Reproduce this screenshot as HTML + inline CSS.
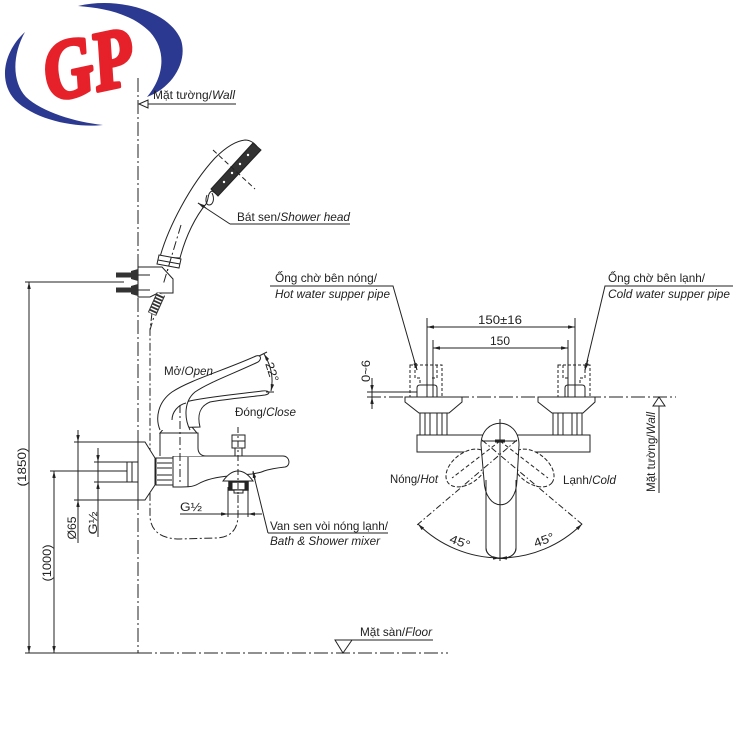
<!DOCTYPE html>
<html><head><meta charset="utf-8"><style>html,body{margin:0;padding:0;background:#fff}svg{display:block}</style></head><body>
<svg width="740" height="740" viewBox="0 0 740 740" xmlns="http://www.w3.org/2000/svg" font-family="'Liberation Sans', Arial, sans-serif" font-size="12" fill="#222">
<defs>
<marker id="ar" viewBox="0 0 10 5" refX="10" refY="2.5" markerWidth="7" markerHeight="3.5" markerUnits="userSpaceOnUse" orient="auto-start-reverse"><path d="M0,0 L10,2.5 L0,5 z" fill="#222"/></marker>
</defs>
<rect width="740" height="740" fill="#fff"/>

<!-- logo -->
<path d="M78,6 C120,-4 170,12 181,40 C188,62 172,88 147,97 C163,78 168,52 150,32 C132,14 105,8 78,6 Z" fill="#2b3990"/>
<path d="M25,32 C5,50 -3,80 15,100 C35,120 75,128 103,125 C75,122 42,112 26,97 C12,82 12,55 25,32 Z" fill="#2b3990"/>
<text x="0" y="0" transform="translate(50,101) rotate(-12)" font-family="'Liberation Serif', serif" font-weight="bold" font-style="italic" font-size="84" fill="#e62129" stroke="#e62129" stroke-width="4" stroke-linejoin="round" textLength="90" lengthAdjust="spacingAndGlyphs">GP</text>

<g stroke="#222" stroke-width="1" fill="none">
<!-- wall & floor -->
<line x1="138" y1="78" x2="138" y2="653" stroke-dasharray="14,3,2,3"/>
<line x1="25" y1="653" x2="138" y2="653"/>
<line x1="138" y1="653" x2="448" y2="653" stroke-dasharray="14,3,2,3"/>
<line x1="147" y1="104" x2="236" y2="104"/>
<path d="M139,104 L148,100 L148,108 Z" fill="#fff"/>
<line x1="335" y1="640" x2="433" y2="640"/>
<path d="M343,653 L335,640 L352,640 Z" fill="#fff"/>

<!-- left dimensions -->
<line x1="25" y1="282" x2="124" y2="282"/>
<line x1="29" y1="282" x2="29" y2="653" marker-start="url(#ar)" marker-end="url(#ar)"/>
<line x1="54" y1="471" x2="54" y2="653" marker-start="url(#ar)" marker-end="url(#ar)"/>
<line x1="50" y1="471" x2="126" y2="471"/>
<line x1="126" y1="471" x2="200" y2="471" stroke-dasharray="10,3,2,3"/>
<line x1="74" y1="442" x2="142" y2="442"/>
<line x1="74" y1="500" x2="142" y2="500"/>
<line x1="78" y1="430" x2="78" y2="543"/>
<line x1="78" y1="432" x2="78" y2="442" marker-end="url(#ar)"/>
<line x1="78" y1="512" x2="78" y2="500" marker-end="url(#ar)"/>
<line x1="94" y1="462" x2="128" y2="462"/>
<line x1="94" y1="482" x2="128" y2="482"/>
<line x1="98" y1="448" x2="98" y2="537"/>
<line x1="98" y1="450" x2="98" y2="462" marker-end="url(#ar)"/>
<line x1="98" y1="494" x2="98" y2="482" marker-end="url(#ar)"/>

<!-- hose -->
<path d="M152,313 L150,330 L150,515 C150,530 160,539 180,539 L215,538 C230,538 238,530 238,515 L238,493" stroke-dasharray="8,2.5,2,2.5"/>
<line x1="181" y1="225" x2="150" y2="330" stroke-dasharray="9,3,2,3"/>

<!-- shower head -->
<path d="M160,257 C168,228 190,185 215,158 C225,148 235,141 245,140 C250,140 255,143 258,148 L218,195 L212,191 C207,193 209,200 206,204 C196,216 186,235 180,258 Z" fill="#fff"/>
<path d="M253,143 L261,150 L218,196 L211,189 Z" fill="#333"/>
<path d="M212,193 C215,199 213,205 209,205 C206,205 205,200 207,195" />
<line x1="213" y1="150" x2="255" y2="189" stroke-dasharray="5,3"/>
<path d="M159,255 L181,259 L179,268 L157,264 Z" fill="#fff"/>
<line x1="158" y1="260" x2="180" y2="264"/>
<!-- bracket -->
<path d="M138,267 L162,267 L173,279 L173,293 L158,293 L150,297 L138,297 Z" fill="#fff"/>
<line x1="138" y1="275" x2="150" y2="275"/>
<line x1="138" y1="290" x2="150" y2="290"/>
<line x1="161" y1="294" x2="152" y2="314" stroke-width="9" stroke="#333"/>
<line x1="161" y1="294" x2="152" y2="314" stroke-width="7" stroke="#fff" stroke-dasharray="1.5,1.8"/>
<line x1="181" y1="225" x2="163" y2="285" stroke-dasharray="9,3,2,3"/>

<!-- leader shower head -->
<path d="M230,224 L350,224 M230,224 L198,203"/>
<line x1="206" y1="208" x2="198" y2="203" marker-end="url(#ar)"/>

<!-- faucet side view -->
<rect x="127" y="462" width="11" height="20" fill="#fff"/>
<line x1="132" y1="462" x2="132" y2="482"/>
<path d="M138,442 L145,442 L155,458 L155,485 L145,500 L138,500 Z" fill="#fff"/>
<rect x="156" y="458" width="17" height="27" fill="#fff"/>
<path d="M157,463 H172 M157,468 H172 M157,475 H172 M157,480 H172"/>
<path d="M173,456 L283,456 C290,456 291,466 285,467 C276,468 270,469 264,471 C260,473 256,473 252,474 L230,476 C215,477 205,480 198,484 C193,487 188,487 173,487 Z" fill="#fff"/>
<line x1="188" y1="457" x2="188" y2="487"/>
<path d="M160,456 L160,433 L198,433 L198,448 C198,453 201,456 206,456" fill="#fff"/>
<path d="M165,427 L192,427 L197,433 L160,433 Z" fill="#fff"/>
<!-- levers -->
<path d="M163,428 C160,418 170,406 185,402 C205,397 240,394 262,391 C270,390 271,394 265,395 C250,397 225,399 210,402 C200,406 197,415 200,427 Z" fill="#fff"/>
<path d="M160,430 C155,418 158,402 172,392 C190,380 225,370 256,356 C262,354 262,361 256,363 C230,375 208,383 195,392 C184,401 184,418 190,430" fill="#fff"/>
<path d="M172,420 C172,412 178,405 186,403"/>
<!-- 22 deg -->
<line x1="259" y1="356" x2="267" y2="352"/>
<line x1="266" y1="392" x2="274" y2="392"/>
<path d="M264,354 Q275,372 271,391" marker-start="url(#ar)" marker-end="url(#ar)"/>
<line x1="180" y1="405" x2="180" y2="485" stroke-dasharray="8,3,2,3"/>
<!-- diverter -->
<rect x="232" y="435" width="13" height="13" fill="#fff"/>
<line x1="232" y1="441" x2="245" y2="441"/>
<rect x="235" y="448" width="7" height="8" fill="#fff"/>
<!-- aerator -->
<path d="M223,481 C228,474 233,471 238,471 C243,471 248,474 253,481 Z" fill="#fff"/>
<rect x="229" y="482" width="19" height="8" fill="#fff" stroke-width="1.5"/>
<rect x="229" y="482" width="3" height="8" fill="#222"/>
<rect x="245" y="482" width="3" height="8" fill="#222"/>
<rect x="234" y="490" width="9" height="3" fill="#fff"/>
<line x1="238" y1="427" x2="238" y2="518" stroke-dasharray="6,3,2,3"/>
<!-- G1/2 horizontal -->
<line x1="228" y1="487" x2="228" y2="517"/>
<line x1="248" y1="487" x2="248" y2="517"/>
<line x1="180" y1="514" x2="262" y2="514"/>
<line x1="218" y1="514" x2="228" y2="514" marker-end="url(#ar)"/>
<line x1="258" y1="514" x2="248" y2="514" marker-end="url(#ar)"/>
<!-- leader mixer -->
<path d="M268,533 L388,533 M268,533 L253,472"/>
<line x1="255" y1="480" x2="253" y2="471" marker-end="url(#ar)"/>

<!-- right labels leaders -->
<path d="M270,286 L393,286 L417,370"/>
<line x1="414" y1="360" x2="417" y2="370" marker-end="url(#ar)"/>
<path d="M733,286 L605,286 L585,370"/>
<line x1="588" y1="360" x2="585" y2="370" marker-end="url(#ar)"/>

<!-- front view dims -->
<line x1="427" y1="318" x2="427" y2="436"/>
<line x1="575" y1="318" x2="575" y2="436"/>
<line x1="433" y1="340" x2="433" y2="436"/>
<line x1="568" y1="340" x2="568" y2="436"/>
<line x1="427" y1="327" x2="575" y2="327" marker-start="url(#ar)" marker-end="url(#ar)"/>
<line x1="433" y1="348" x2="568" y2="348" marker-start="url(#ar)" marker-end="url(#ar)"/>
<line x1="367" y1="392" x2="417" y2="392"/>
<line x1="372" y1="378" x2="372" y2="409"/>
<line x1="372" y1="381" x2="372" y2="392" marker-end="url(#ar)"/>
<line x1="372" y1="408" x2="372" y2="397" marker-end="url(#ar)"/>
<line x1="367" y1="397" x2="676" y2="397" stroke-dasharray="14,3,2,3"/>
<line x1="659" y1="405" x2="659" y2="493"/>
<path d="M659,397 L653,406 L665,406 Z" fill="#fff"/>

<!-- pipes -->
<rect x="410" y="365" width="32" height="32" stroke-dasharray="3,2"/>
<path d="M415,365 V378 H420 V385 M437,365 V378 H432" stroke-dasharray="3,2"/>
<path d="M417,397 V388 Q417,385 420,385 H434 Q437,385 437,388 V397" fill="#fff"/>
<rect x="558" y="365" width="32" height="32" stroke-dasharray="3,2"/>
<path d="M563,365 V378 H568 M585,365 V378 H580 V385" stroke-dasharray="3,2"/>
<path d="M565,397 V388 Q565,385 568,385 H582 Q585,385 585,388 V397" fill="#fff"/>
<line x1="427" y1="385" x2="427" y2="397"/>
<line x1="433" y1="385" x2="433" y2="397"/>
<line x1="568" y1="385" x2="568" y2="397"/>
<line x1="575" y1="385" x2="575" y2="397"/>
<!-- flanges -->
<path d="M405,397 L462,397 L462,402 L449,413 L419,413 L405,402 Z" fill="#fff"/>
<path d="M538,397 L595,397 L595,402 L583,413 L552,413 L538,402 Z" fill="#fff"/>
<rect x="420" y="413" width="27" height="22" fill="#fff"/>
<path d="M425,413 V435 M430,413 V435 M437,413 V435 M442,413 V435"/>
<rect x="553" y="413" width="29" height="22" fill="#fff"/>
<path d="M558,413 V435 M563,413 V435 M572,413 V435 M577,413 V435"/>
<rect x="417" y="435" width="173" height="17" fill="#fff"/>
<!-- dashed rotated levers -->
<ellipse cx="467" cy="468" rx="24" ry="15" transform="rotate(-38 467 468)" stroke-dasharray="4,2" fill="#fff"/>
<ellipse cx="533" cy="468" rx="24" ry="15" transform="rotate(38 533 468)" stroke-dasharray="4,2" fill="#fff"/>
<!-- lever front -->
<path d="M486,476 L486,548 C486,562 516,562 516,548 L516,476" fill="#fff"/>
<path d="M481,445 C481,416 519,416 519,445 L517,480 C516,513 485,513 484,480 Z" fill="#fff"/>
<path d="M486,480 L486,548 C486,562 516,562 516,548 L516,480"/>
<line x1="482" y1="441" x2="517" y2="441"/>
<rect x="495" y="439.5" width="10" height="3" fill="#222" stroke="none"/>
<line x1="500" y1="419" x2="500" y2="561"/>
<line x1="482" y1="440" x2="583" y2="525" stroke-dasharray="6,2.5,1.5,2.5"/>
<line x1="517" y1="440" x2="417" y2="525" stroke-dasharray="6,2.5,1.5,2.5"/>
<line x1="500" y1="441" x2="452" y2="478" stroke-dasharray="4,2.5"/>
<line x1="500" y1="441" x2="548" y2="478" stroke-dasharray="4,2.5"/>
<path d="M418,524 A117,117 0 0 0 500,558" marker-start="url(#ar)" marker-end="url(#ar)"/>
<path d="M582,524 A117,117 0 0 1 500,558" marker-start="url(#ar)" marker-end="url(#ar)"/>
</g>

<!-- screws -->
<g fill="#333">
<rect x="116" y="272.5" width="16" height="5"/>
<path d="M131,271 L138,269 L138,281 L131,279 Z"/>
<rect x="116" y="287.5" width="16" height="5"/>
<path d="M131,286 L138,284 L138,296 L131,294 Z"/>
</g>
<g fill="#fff">
<circle cx="248" cy="155" r="1.2"/><circle cx="240" cy="164" r="1.2"/><circle cx="232" cy="173" r="1.2"/><circle cx="224" cy="182" r="1.2"/>
</g>

<!-- texts -->
<g font-size="12" fill="#222">
<text x="153" y="99" textLength="82" lengthAdjust="spacingAndGlyphs">Mặt tường/<tspan font-style="italic">Wall</tspan></text>
<text x="237" y="221" textLength="113" lengthAdjust="spacingAndGlyphs">Bát sen/<tspan font-style="italic">Shower head</tspan></text>
<text x="164" y="375" textLength="49" lengthAdjust="spacingAndGlyphs">Mở/<tspan font-style="italic">Open</tspan></text>
<text x="235" y="416" textLength="61" lengthAdjust="spacingAndGlyphs">Đóng/<tspan font-style="italic">Close</tspan></text>
<text x="180" y="511" textLength="22" lengthAdjust="spacingAndGlyphs">G½</text>
<text x="270" y="530" textLength="118" lengthAdjust="spacingAndGlyphs">Van sen vòi nóng lạnh/</text>
<text x="270" y="545" font-style="italic" textLength="110" lengthAdjust="spacingAndGlyphs">Bath &amp; Shower mixer</text>
<text x="360" y="636" textLength="72" lengthAdjust="spacingAndGlyphs">Mặt sàn/<tspan font-style="italic">Floor</tspan></text>
<text x="275" y="282" textLength="102" lengthAdjust="spacingAndGlyphs">Ống chờ bên nóng/</text>
<text x="275" y="298" font-style="italic" textLength="115" lengthAdjust="spacingAndGlyphs">Hot water supper pipe</text>
<text x="608" y="282" textLength="97" lengthAdjust="spacingAndGlyphs">Ống chờ bên lạnh/</text>
<text x="608" y="298" font-style="italic" textLength="122" lengthAdjust="spacingAndGlyphs">Cold water supper pipe</text>
<text x="478" y="324" textLength="44" lengthAdjust="spacingAndGlyphs">150±16</text>
<text x="490" y="345" textLength="20" lengthAdjust="spacingAndGlyphs">150</text>
<text x="390" y="483" textLength="48" lengthAdjust="spacingAndGlyphs">Nóng/<tspan font-style="italic">Hot</tspan></text>
<text x="563" y="484" textLength="53" lengthAdjust="spacingAndGlyphs">Lạnh/<tspan font-style="italic">Cold</tspan></text>
<text transform="translate(22,467) rotate(-90)" text-anchor="middle" dominant-baseline="central" textLength="39" lengthAdjust="spacingAndGlyphs">(1850)</text>
<text transform="translate(47,563) rotate(-90)" text-anchor="middle" dominant-baseline="central" textLength="37" lengthAdjust="spacingAndGlyphs">(1000)</text>
<text transform="translate(72,528) rotate(-90)" text-anchor="middle" dominant-baseline="central" textLength="23" lengthAdjust="spacingAndGlyphs">Ø65</text>
<text transform="translate(93,523) rotate(-90)" text-anchor="middle" dominant-baseline="central" textLength="23" lengthAdjust="spacingAndGlyphs">G½</text>
<text transform="translate(366,371) rotate(-90)" text-anchor="middle" dominant-baseline="central" textLength="22" lengthAdjust="spacingAndGlyphs">0~6</text>
<text transform="translate(651,452) rotate(-90)" text-anchor="middle" dominant-baseline="central" textLength="80" lengthAdjust="spacingAndGlyphs">Mặt tường/<tspan font-style="italic">Wall</tspan></text>
<text transform="translate(272,372) rotate(72)" text-anchor="middle" dominant-baseline="central" textLength="20" lengthAdjust="spacingAndGlyphs">22°</text>
<text transform="translate(460,542) rotate(20)" text-anchor="middle" dominant-baseline="central" textLength="21" lengthAdjust="spacingAndGlyphs">45°</text>
<text transform="translate(544,540) rotate(-20)" text-anchor="middle" dominant-baseline="central" textLength="21" lengthAdjust="spacingAndGlyphs">45°</text>
</g>
</svg>
</body></html>
